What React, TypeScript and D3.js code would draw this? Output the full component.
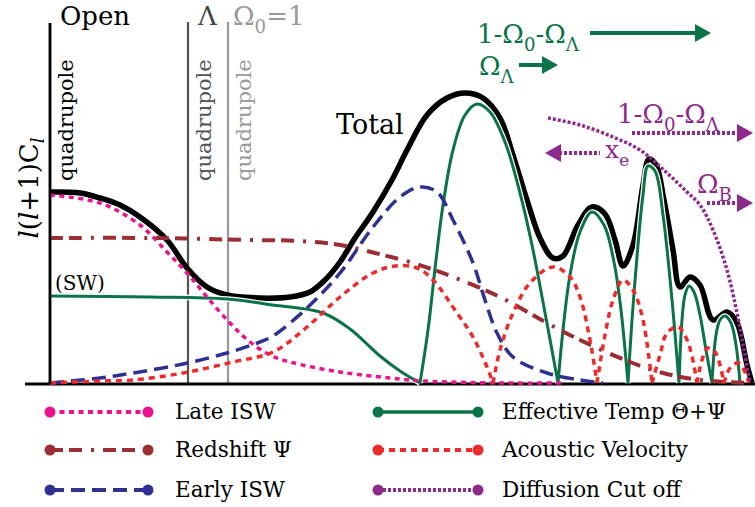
import React from 'react';
import * as d3 from 'd3';

type Pt = [number, number];

// Schematic multipole axis (0..700) and power axis (0..360), arbitrary units.
const totalCurve: Pt[] = [
  [0, 191], [30, 190], [50, 185], [70, 178], [90, 166], [117, 143], [137, 115], [157, 96],
  [177, 88], [210, 85], [240, 86], [260, 91], [275, 103], [290, 121], [305, 145], [323, 171],
  [343, 205], [357, 233], [377, 268], [397, 285], [415, 290], [433, 285], [450, 265],
  [463, 228], [477, 183], [490, 145], [503, 125], [513, 127], [528, 158], [542, 176],
  [555, 169], [565, 143], [573, 117], [583, 138], [593, 198], [599, 224], [606, 218],
  [614, 183], [623, 133], [630, 96], [640, 106], [650, 98], [663, 63], [677, 71],
  [687, 60], [697, 18], [702, 0],
];

const effectiveTempLobes: Pt[][] = [
  [[0, 87], [100, 86], [177, 84], [223, 78], [273, 70], [300, 54], [330, 27], [350, 12], [370, 0]],
  [[370, 0], [378, 53], [386, 123], [393, 178], [403, 233], [415, 268], [427, 279], [440, 271],
    [455, 241], [470, 190], [482, 138], [496, 65], [508, 0]],
  [[508, 0], [513, 53], [520, 108], [530, 151], [542, 171], [554, 158], [564, 121], [571, 73], [578, 0]],
  [[578, 0], [582, 63], [588, 138], [593, 188], [598, 217], [605, 212], [613, 168], [622, 83], [629, 0]],
  [[629, 0], [632, 63], [635, 88], [639, 97], [644, 91], [650, 68], [656, 33], [662, 0]],
  [[662, 0], [666, 48], [670, 63], [675, 67], [681, 60], [686, 38], [690, 0]],
];

const acousticVelocityLobes: Pt[][] = [
  [[0, 0], [50, 2], [83, 3], [133, 10], [183, 21], [223, 31], [257, 56], [290, 86], [323, 110],
    [345, 117], [367, 115], [383, 103], [407, 70], [423, 46], [437, 16], [443, 0]],
  [[443, 0], [450, 33], [463, 70], [480, 100], [503, 116], [520, 106], [530, 86], [540, 43], [547, 0]],
  [[547, 0], [555, 48], [563, 83], [573, 103], [583, 93], [593, 63], [602, 0]],
  [[602, 0], [610, 28], [617, 50], [628, 56], [638, 41], [647, 0]],
  [[647, 0], [652, 23], [658, 35], [665, 31], [670, 18], [674, 0]],
  [[674, 0], [680, 15], [688, 20], [694, 13], [699, 0]],
];

const earlyISW: Pt[] = [
  [0, 0], [50, 5], [83, 10], [133, 19], [177, 30], [210, 41], [223, 47], [257, 75], [290, 110],
  [323, 156], [350, 186], [370, 196], [387, 191], [403, 163], [423, 120], [435, 83], [447, 50],
  [463, 26], [497, 10], [530, 3], [553, 0],
];

const lateISW: Pt[] = [
  [0, 188], [50, 180], [90, 158], [117, 131], [137, 110], [157, 86], [180, 60], [200, 41],
  [220, 28], [240, 21], [290, 11], [340, 5], [373, 2], [450, 0], [515, 0],
];

const redshiftPsi: Pt[] = [
  [0, 145], [100, 145], [200, 143], [250, 142], [290, 138], [325, 130], [363, 120], [403, 106],
  [450, 86], [497, 60], [530, 43], [580, 21], [613, 10], [650, 3], [700, 0],
];

const diffusionCutoff: Pt[] = [
  [498, 265], [530, 258], [563, 246], [590, 233], [617, 210], [637, 191], [650, 178],
  [663, 153], [677, 113], [687, 70], [694, 33], [700, 0],
];

// Quadrupole positions for the three cosmologies
const quadrupoleMarks = [
  { l: 0, color: '#000000' },
  { l: 138, color: '#555555' },
  { l: 178, color: '#999999' },
];

const legendLabels = [
  'Late ISW', 'Redshift \u03A8', 'Early ISW',
  'Effective Temp \u0398+\u03A8', 'Acoustic Velocity', 'Diffusion Cut off',
];

const COLORS = {
  total: '#000000',
  temp: '#0b7348',
  velocity: '#ee2a2a',
  early: '#2e3192',
  late: '#ec118f',
  redshift: '#9b2d35',
  diffusion: '#8e2a8e',
};

const STYLES = [
  { color: COLORS.late, dash: '5 4.5', width: 4 },
  { color: COLORS.redshift, dash: '13 6 13 9 3 9', width: 4 },
  { color: COLORS.early, dash: '14 7', width: 4 },
  { color: COLORS.temp, dash: null, width: 3.5 },
  { color: COLORS.velocity, dash: '6 5', width: 4 },
  { color: COLORS.diffusion, dash: '3 2', width: 4 },
];

const FONT = '"DejaVu Serif", serif';
const W = 755;
const H = 507;

type Part = [string, boolean];

function SubText({ x, y, parts, size, fill }: { x: number; y: number; parts: Part[]; size: number; fill: string }) {
  const shift = size * 0.3;
  let sub = false;
  return (
    <text x={x} y={y} fontFamily={FONT} fontSize={size} fill={fill}>
      {parts.map(([t, isSub], i) => {
        let dy = 0;
        if (isSub && !sub) dy = shift;
        if (!isSub && sub) dy = -shift;
        sub = isSub;
        return (
          <tspan key={i} dy={dy} fontSize={isSub ? size * 0.7 : size}>{t}</tspan>
        );
      })}
    </text>
  );
}

function Arrow({ x1, x2, yy, color, dash, dir }: { x1: number; x2: number; yy: number; color: string; dash?: string; dir: 1 | -1 }) {
  const tip = dir === 1 ? x2 : x1;
  const base = tip - dir * 16;
  const lineEnd = dir === 1 ? base + 2 : base - 2;
  return (
    <g>
      <line x1={dir === 1 ? x1 : lineEnd} x2={dir === 1 ? lineEnd : x2} y1={yy} y2={yy}
        stroke={color} strokeWidth={4} strokeDasharray={dash} />
      <polygon points={`${base},${yy - 9} ${tip},${yy} ${base},${yy + 9}`} fill={color} />
    </g>
  );
}

export default function App() {
  const x = d3.scaleLinear().domain([0, 700]).range([50, 750]);
  const y = d3.scaleLinear().domain([0, 360]).range([383, 23]);
  const line = d3.line<Pt>().x(d => x(d[0])).y(d => y(d[1])).curve(d3.curveCatmullRom.alpha(0.5));
  const lobes = (ls: Pt[][]) => ls.map(l => line(l)).join('');

  const tempPath = lobes(effectiveTempLobes);
  const velPath = lobes(acousticVelocityLobes);

  return (
    <svg width={W} height={H} style={{ position: 'absolute', left: 0, top: 0, background: '#fff' }}>
      <rect width={W} height={H} fill="#fff" />

      {/* quadrupole markers */}
      {quadrupoleMarks.map((m, i) => (
        <g key={i}>
          <line x1={x(m.l)} x2={x(m.l)} y1={i === 0 ? 23 : 22} y2={383} stroke={m.color} strokeWidth={i === 0 ? 2.5 : 2.2} />
          <text transform={`translate(${x(m.l) + 23},181) rotate(-90)`} fontFamily={FONT} fontSize={21} fill={m.color}>quadrupole</text>
        </g>
      ))}
      <text x={60} y={25} fontFamily={FONT} fontSize={26} fill="#000">Open</text>
      <text x={198} y={25} fontFamily={FONT} fontSize={26} fill="#444">{'\u039B'}</text>
      <SubText x={233} y={25} size={26} fill="#999" parts={[['\u03A9', false], ['0', true], ['=1', false]]} />

      {/* baseline */}
      <line x1={25} x2={755} y1={384} y2={384} stroke="#000" strokeWidth={3} />

      {/* curves */}
      <path d={line(totalCurve) || ''} fill="none" stroke={COLORS.total} strokeWidth={5.5} strokeLinejoin="round" />
      <path d={tempPath} fill="none" stroke="#fff" strokeWidth={5.5} />
      <path d={tempPath} fill="none" stroke={COLORS.temp} strokeWidth={3} />
      <path d={line(lateISW) || ''} fill="none" stroke={COLORS.late} strokeWidth={3.5} strokeDasharray="5 4.5" />
      <path d={line(redshiftPsi) || ''} fill="none" stroke={COLORS.redshift} strokeWidth={4} strokeDasharray="13 6 13 9 3 9" />
      <path d={line(earlyISW) || ''} fill="none" stroke={COLORS.early} strokeWidth={3.5} strokeDasharray="14 7" />
      <path d={velPath} fill="none" stroke={COLORS.velocity} strokeWidth={3.5} strokeDasharray="6 5" />
      <path d={line(diffusionCutoff) || ''} fill="none" stroke={COLORS.diffusion} strokeWidth={3.5} strokeDasharray="3 2" />

      {/* y axis */}
      <line x1={50} x2={50} y1={23} y2={384} stroke="#000" strokeWidth={2.5} />
      <text transform="translate(38,188) rotate(-90)" fontFamily={FONT} fontSize={26} textAnchor="middle" fill="#000">
        <tspan fontStyle="italic">l</tspan>
        <tspan>(</tspan>
        <tspan fontStyle="italic">l</tspan>
        <tspan>+1)C</tspan>
        <tspan fontStyle="italic" fontSize={18} dy={6}>l</tspan>
      </text>

      <text x={336} y={134} fontFamily={FONT} fontSize={27} fill="#000">Total</text>
      <text x={55} y={290} fontFamily={FONT} fontSize={20} fill="#000">(SW)</text>

      {/* annotations */}
      <SubText x={477} y={43} size={26} fill={COLORS.temp} parts={[['1-\u03A9', false], ['0', true], ['-\u03A9', false], ['\u039B', true]]} />
      <Arrow x1={590} x2={711} yy={33} color={COLORS.temp} dir={1} />
      <SubText x={479} y={75} size={26} fill={COLORS.temp} parts={[['\u03A9', false], ['\u039B', true]]} />
      <Arrow x1={519} x2={558} yy={65} color={COLORS.temp} dir={1} />

      <SubText x={617} y={123} size={26} fill={COLORS.diffusion} parts={[['1-\u03A9', false], ['0', true], ['-\u03A9', false], ['\u039B', true]]} />
      <Arrow x1={632} x2={753} yy={133} color={COLORS.diffusion} dash="3 2" dir={1} />
      <SubText x={605} y={158} size={25} fill={COLORS.diffusion} parts={[['x', false], ['e', true]]} />
      <Arrow x1={545} x2={600} yy={153} color={COLORS.diffusion} dash="3 2" dir={-1} />
      <SubText x={697} y={193} size={26} fill={COLORS.diffusion} parts={[['\u03A9', false], ['B', true]]} />
      <Arrow x1={707} x2={753} yy={203} color={COLORS.diffusion} dash="3 2" dir={1} />

      {/* legend */}
      {legendLabels.map((label, i) => {
        const col = Math.floor(i / 3);
        const row = i % 3;
        const cy = [412, 450, 490][row];
        const lx1 = col === 0 ? 50 : 378;
        const lx2 = col === 0 ? 148 : 478;
        const tx = col === 0 ? 175 : 502;
        const s = STYLES[i];
        return (
          <g key={label}>
            <line x1={lx1} x2={lx2} y1={cy} y2={cy} stroke={s.color} strokeWidth={s.width}
              strokeDasharray={s.dash || undefined} />
            <circle cx={lx1} cy={cy} r={5.5} fill={s.color} />
            <circle cx={lx2} cy={cy} r={5.5} fill={s.color} />
            <text x={tx} y={cy + 7} fontFamily={FONT} fontSize={21.5} fill="#000">{label}</text>
          </g>
        );
      })}
    </svg>
  );
}
